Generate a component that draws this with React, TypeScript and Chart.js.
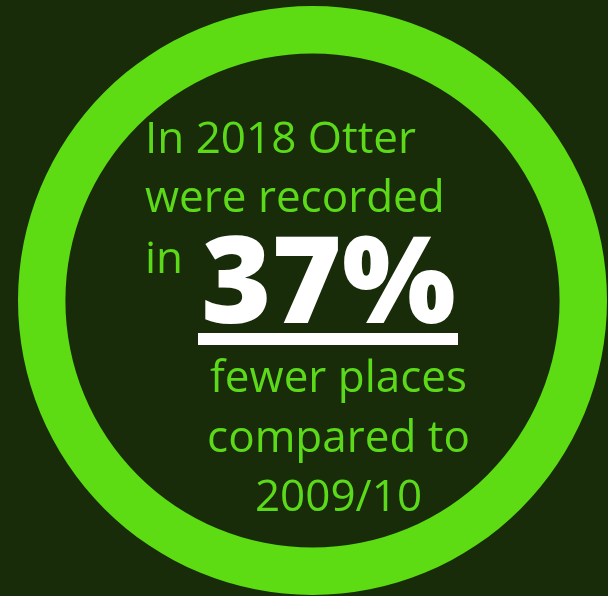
import React, { useEffect, useRef } from "react";
import { Chart, registerables } from "chart.js";

Chart.register(...registerables);

const ringLabels = ["Recorded"];
const ringValues = [100];
const headlineLines = ["In 2018 Otter", "were recorded", "in"];
const statLabel = "37%";
const footerLines = ["fewer places", "compared to", "2009/10"];

const BG = "#182C0A";
const RING = "#5DDC13";
const TEXT = "#5CDA1A";

const textPlugin = {
  id: "infographicText",
  beforeDraw(chart: any) {
    const ctx = chart.ctx;
    ctx.save();
    ctx.fillStyle = BG;
    ctx.fillRect(0, 0, chart.width, chart.height);
    ctx.restore();
  },
  afterDraw(chart: any) {
    const ctx = chart.ctx;
    ctx.save();
    ctx.textBaseline = "alphabetic";
    ctx.fillStyle = TEXT;
    ctx.font = '44px "Open Sans"';
    ctx.textAlign = "left";
    const headBase = [153, 212, 273];
    headlineLines.forEach((t, i) => ctx.fillText(t, 145, headBase[i]));

    ctx.fillStyle = "#FFFFFF";
    ctx.font = '800 120px "Open Sans"';
    ctx.textAlign = "center";
    ctx.fillText(statLabel, 328.5, 323);
    ctx.fillRect(198, 333, 260, 12);

    ctx.fillStyle = TEXT;
    ctx.font = '44px "Open Sans"';
    ctx.textAlign = "center";
    const footBase = [392, 452, 511];
    footerLines.forEach((t, i) => ctx.fillText(t, 338.5, footBase[i]));
    ctx.restore();
  },
};

export default function App() {
  const ref = useRef<HTMLCanvasElement | null>(null);
  useEffect(() => {
    document.body.style.margin = "0";
    document.body.style.background = BG;
    if (!ref.current) return;
    const chart = new Chart(ref.current, {
      type: "doughnut",
      data: {
        labels: ringLabels,
        datasets: [
          {
            data: ringValues,
            backgroundColor: [RING],
            borderWidth: 0,
            hoverOffset: 0,
          },
        ],
      },
      options: {
        animation: false,
        responsive: true,
        maintainAspectRatio: false,
        cutout: "83.9%",
        layout: { padding: { left: 17, right: 0, top: 6, bottom: 1 } },
        plugins: {
          legend: { display: false },
          tooltip: { enabled: false },
        },
        events: [],
      },
      plugins: [textPlugin],
    });
    return () => chart.destroy();
  }, []);
  return (
    <div style={{ position: "fixed", left: 0, top: 0, width: 608, height: 596, background: BG }}>
      <canvas ref={ref} />
    </div>
  );
}
